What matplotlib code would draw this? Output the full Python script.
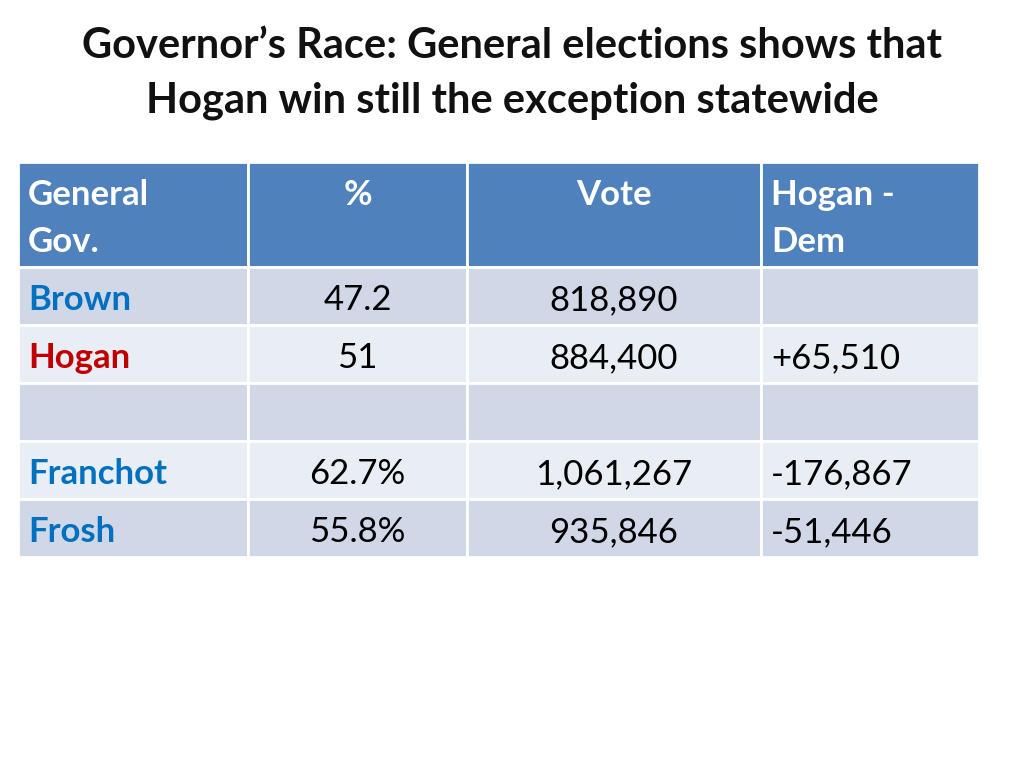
import matplotlib.pyplot as plt
from matplotlib.patches import Rectangle

title_lines = ["Governor\u2019s Race: General elections shows that",
               "Hogan win still the exception statewide"]

headers = [["General", "Gov."], ["%"], ["Vote"], ["Hogan -", "Dem"]]
names = ["Brown", "Hogan", "", "Franchot", "Frosh"]
pct = ["47.2", "51", "", "62.7%", "55.8%"]
votes = ["818,890", "884,400", "", "1,061,267", "935,846"]
diff = ["", "+65,510", "", "-176,867", "-51,446"]
name_colors = ["#0070C0", "#C00000", "#0070C0", "#0070C0", "#0070C0"]

# layout in pixels
col_edges = [18, 248, 467, 761, 979]
header_top, header_bot = 162, 267
row_h = 58

plt.rcParams["font.family"] = ["Lato", "DejaVu Sans"]
fig = plt.figure(figsize=(10.24, 7.68), dpi=100)
ax = fig.add_axes([0, 0, 1, 1])
ax.set_xlim(0, 1024)
ax.set_ylim(768, 0)
ax.axis("off")

for k, line in enumerate(title_lines):
    ax.text(512, 58 + 55 * k, line, ha="center", va="baseline", fontsize=30,
            fontweight="bold", color="#111111")

# header
for i in range(4):
    x0, x1 = col_edges[i], col_edges[i + 1]
    ax.add_patch(Rectangle((x0, header_top), x1 - x0, header_bot - header_top,
                           facecolor="#4F81BD", edgecolor="white", lw=2))
    for k, line in enumerate(headers[i]):
        if i in (0, 3):
            ax.text(x0 + 10, 205 + 47 * k, line, ha="left", va="baseline",
                    fontsize=25, fontweight="bold", color="white")
        else:
            ax.text((x0 + x1) / 2, 205 + 47 * k, line, ha="center", va="baseline",
                    fontsize=25, fontweight="bold", color="white")

# body
for r in range(len(names)):
    y0 = header_bot + r * row_h
    fc = "#D0D8E8" if r % 2 == 0 else "#E9EDF4"
    for i in range(4):
        x0, x1 = col_edges[i], col_edges[i + 1]
        ax.add_patch(Rectangle((x0, y0), x1 - x0, row_h, facecolor=fc,
                               edgecolor="white", lw=2))
    yb = y0 + 43
    ax.text(col_edges[0] + 10, yb, names[r], ha="left", va="baseline", fontsize=25,
            fontweight="bold", color=name_colors[r])
    ax.text((col_edges[1] + col_edges[2]) / 2, yb, pct[r], ha="center", va="baseline",
            fontsize=25, color="black")
    ax.text((col_edges[2] + col_edges[3]) / 2, yb, votes[r], ha="center", va="baseline",
            fontsize=25, color="black")
    ax.text(col_edges[3] + 10, yb, diff[r], ha="left", va="baseline", fontsize=25,
            color="black")

fig.savefig("out.png", dpi=100)
